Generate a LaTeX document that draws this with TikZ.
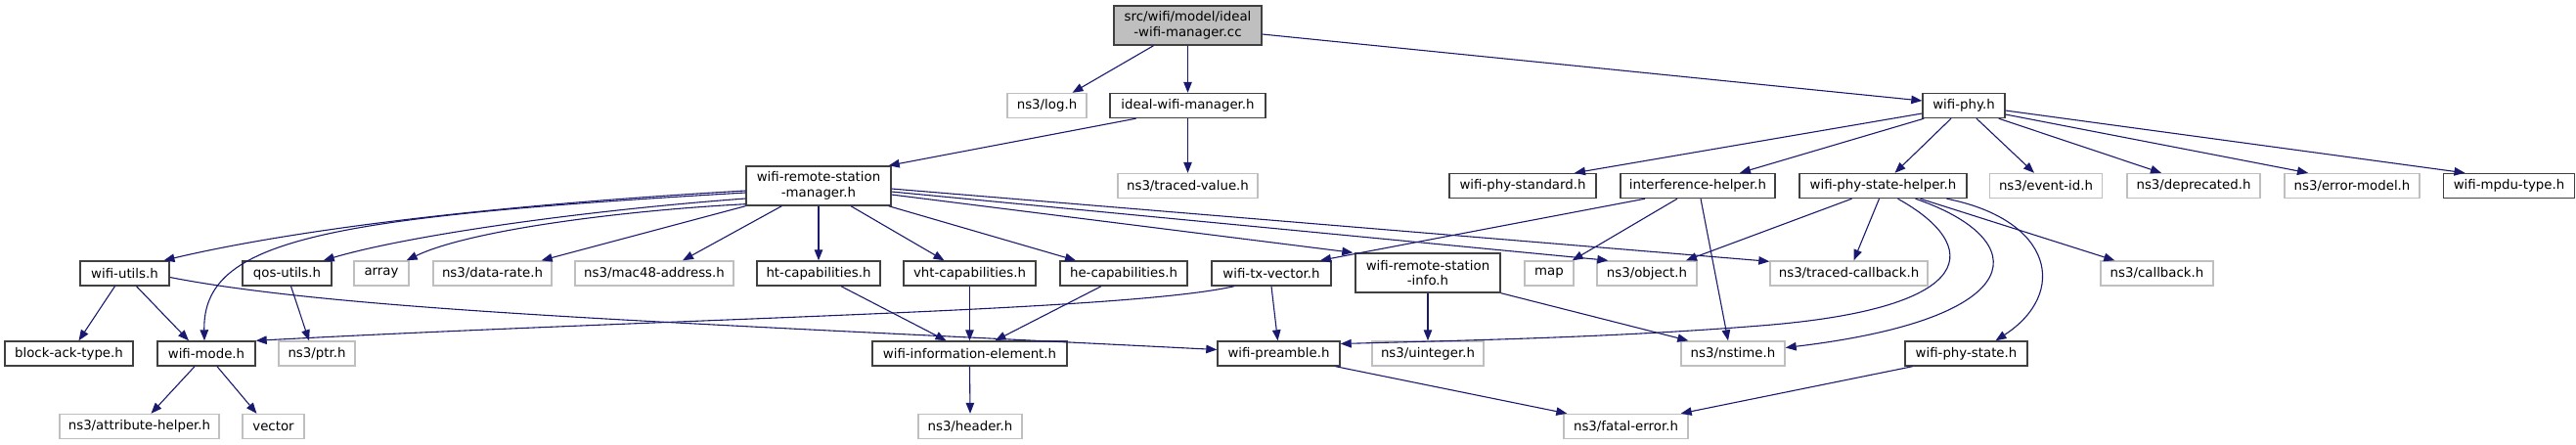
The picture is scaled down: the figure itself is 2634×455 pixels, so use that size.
\documentclass[tikz,border=0pt]{standalone}
\usepackage{fontspec}
\setmainfont{DejaVu Sans}
\usetikzlibrary{arrows.meta}
\definecolor{edgeblue}{HTML}{191970}
\definecolor{boxdark}{HTML}{404040}
\definecolor{boxgrey}{HTML}{BFBFBF}
\begin{document}
\begin{tikzpicture}[x=1pt,y=-1pt,
  every node/.style={font=\fontsize{13.33}{15.5}\selectfont, inner sep=0pt, minimum height=25pt, align=center},
  doc/.style={draw=boxdark, line width=1.4pt, fill=white},
  ext/.style={draw=boxgrey, line width=1.4pt, fill=white},
  rootbox/.style={draw=boxdark, line width=1.4pt, fill=boxgrey, minimum height=40pt},
  tall/.style={minimum height=40pt},
  conn/.style={draw=edgeblue, line width=1.1pt, -{Triangle[length=11pt,width=8.5pt]}}
]
\useasboundingbox (0,0) rectangle (2634,455);
% row 0
\node[rootbox, minimum width=151pt] (root) at (1214.5,26) {src/wifi/model/ideal\\-wifi-manager.cc};
% row 1
\node[ext, minimum width=81pt] (log) at (1070.5,108) {ns3/log.h};
\node[doc, minimum width=159pt] (iwm) at (1214.5,108) {ideal-wifi-manager.h};
\node[doc, minimum width=84pt] (wphy) at (2008,108) {wifi-phy.h};
% row 2
\node[doc, tall, minimum width=148pt] (wrsm) at (837,190) {wifi-remote-station\\-manager.h};
\node[ext, minimum width=143pt] (tval) at (1214.5,190) {ns3/traced-value.h};
\node[doc, minimum width=150pt] (wpstd) at (1557,190) {wifi-phy-standard.h};
\node[doc, minimum width=158pt] (ih) at (1736,190) {interference-helper.h};
\node[doc, minimum width=171pt] (wpsh) at (1925.5,190) {wifi-phy-state-helper.h};
\node[ext, minimum width=115pt] (evid) at (2092,190) {ns3/event-id.h};
\node[ext, minimum width=136pt] (depr) at (2243,190) {ns3/deprecated.h};
\node[ext, minimum width=138pt] (errm) at (2405,190) {ns3/error-model.h};
\node[doc, minimum width=134pt] (mpdu) at (2565.5,190) {wifi-mpdu-type.h};
% row 3
\node[doc, minimum width=91pt] (wutil) at (127.5,279.5) {wifi-utils.h};
\node[doc, minimum width=91pt] (qos) at (293.5,279.5) {qos-utils.h};
\node[ext, minimum width=56pt] (array) at (390,279.5) {array};
\node[ext, minimum width=121pt] (drate) at (503.5,279.5) {ns3/data-rate.h};
\node[ext, minimum width=162pt] (mac) at (669,279.5) {ns3/mac48-address.h};
\node[doc, minimum width=126pt] (ht) at (837,279.5) {ht-capabilities.h};
\node[doc, minimum width=135pt] (vht) at (991.5,279.5) {vht-capabilities.h};
\node[doc, minimum width=130pt] (he) at (1149,279.5) {he-capabilities.h};
\node[doc, minimum width=122pt] (txv) at (1300,279.5) {wifi-tx-vector.h};
\node[doc, tall, minimum width=148pt] (wrsi) at (1460,279) {wifi-remote-station\\-info.h};
\node[ext, minimum width=50pt] (map) at (1584,279.5) {map};
\node[ext, minimum width=102pt] (obj) at (1684,279.5) {ns3/object.h};
\node[ext, minimum width=161pt] (tcb) at (1890.5,279.5) {ns3/traced-callback.h};
\node[ext, minimum width=115pt] (cb) at (2205.5,279.5) {ns3/callback.h};
% row 4
\node[doc, minimum width=131pt] (back) at (70.5,361.5) {block-ack-type.h};
\node[doc, minimum width=100pt] (wmode) at (211,361.5) {wifi-mode.h};
\node[ext, minimum width=78pt] (ptr) at (324,361.5) {ns3/ptr.h};
\node[doc, minimum width=199pt] (wie) at (991.5,361.5) {wifi-information-element.h};
\node[doc, minimum width=125pt] (wpre) at (1307.5,361.5) {wifi-preamble.h};
\node[ext, minimum width=114pt] (uint) at (1460,361.5) {ns3/uinteger.h};
\node[ext, minimum width=106pt] (nst) at (1772,361.5) {ns3/nstime.h};
\node[doc, minimum width=125pt] (wps) at (2010.5,361.5) {wifi-phy-state.h};
% row 5
\node[ext, minimum width=163pt] (attr) at (142.5,436) {ns3/attribute-helper.h};
\node[ext, minimum width=63pt] (vec) at (279.5,436) {vector};
\node[ext, minimum width=106pt] (hdr) at (992,436) {ns3/header.h};
\node[ext, minimum width=127pt] (fatal) at (1662.5,436) {ns3/fatal-error.h};
% edges
\draw[conn] ([xshift=-35pt]root.south) -- ([xshift=26pt]log.north);
\draw[conn] (root.south) -- (iwm.north);
\draw[conn] ([yshift=-9pt]root.east) -- ([yshift=5pt]wphy.west);
\draw[conn] ([xshift=-53pt]iwm.south) -- ([xshift=-3pt]wrsm.north east);
\draw[conn] (iwm.south) -- (tval.north);
\draw[conn] ([yshift=-5pt]wrsm.west) .. controls (500,210) and (300,235) .. ([xshift=40pt]wutil.north);
\draw[conn] ([yshift=-7pt]wrsm.west) .. controls (330,222) and (207,245) .. ([xshift=-2pt]wmode.north);
\draw[conn] ([yshift=-13pt]wrsm.west) .. controls (600,215) and (420,240) .. ([xshift=-9pt]qos.north east);
\draw[conn] ([yshift=2pt]wrsm.south west) .. controls (640,215) and (480,235) .. ([xshift=-3pt]array.north east);
\draw[conn] (wrsm.south west) -- ([xshift=-11pt]drate.north east);
\draw[conn] ([xshift=37pt]wrsm.south west) -- ([xshift=29pt]mac.north);
\draw[conn] (wrsm.south) -- (ht.north);
\draw[conn] ([xshift=33pt]wrsm.south) -- ([xshift=-26pt]vht.north);
\draw[conn] ([xshift=-3pt]wrsm.south east) -- ([xshift=-49pt]he.north);
\draw[conn] ([yshift=-9pt]wrsm.east) -- ([xshift=-2pt]wrsi.north west);
\draw[conn] ([yshift=-6pt]wrsm.east) -- ([xshift=12pt]obj.north west);
\draw[conn] ([yshift=-3pt]wrsm.east) -- ([yshift=-1pt]tcb.north west);
\draw[conn] ([xshift=-10pt]wutil.south) -- ([xshift=10pt]back.north);
\draw[conn] ([xshift=12pt]wutil.south) -- ([xshift=-18pt]wmode.north);
\draw[conn] ([yshift=-4pt]wutil.east) .. controls (350,318) and (700,330) .. ([yshift=4pt]wpre.west);
\draw[conn] ([xshift=4pt]qos.south) -- ([xshift=-8pt]ptr.north);
\draw[conn] ([xshift=-12pt]wmode.south) -- ([xshift=12pt]attr.north);
\draw[conn] ([xshift=11pt]wmode.south) -- ([xshift=-17pt]vec.north);
\draw[conn] ([xshift=23pt]ht.south) -- ([xshift=-24pt]wie.north);
\draw[conn] (vht.south) -- (wie.north);
\draw[conn] ([xshift=-23pt]he.south) -- ([xshift=26pt]wie.north);
\draw[conn] (wie.south) -- (hdr.north);
\draw[conn] ([xshift=-38pt]txv.south) .. controls (1150,318) and (700,325) .. (wmode.north east);
\draw[conn] (txv.south) -- ([xshift=-1pt]wpre.north);
\draw[conn] (wrsi.south) -- (uint.north);
\draw[conn] (wrsi.south east) -- ([xshift=8pt]nst.north west);
\draw[conn] ([xshift=-5pt]wpre.south east) -- ([xshift=4pt]fatal.north west);
\draw[conn] ([xshift=-55pt]wps.south) -- ([xshift=-8pt]fatal.north east);
\draw[conn] ([yshift=-8pt]wphy.west) -- ([xshift=53pt]wpstd.north);
\draw[conn] ([xshift=2pt]wphy.south west) -- ([xshift=43pt]ih.north);
\draw[conn] ([xshift=-13pt]wphy.south) -- ([xshift=12pt]wpsh.north);
\draw[conn] ([xshift=13pt]wphy.south) -- ([xshift=-12pt]evid.north);
\draw[conn] ([xshift=-7pt]wphy.south east) -- ([xshift=-33pt]depr.north);
\draw[conn] ([yshift=-9pt]wphy.east) -- ([xshift=-45pt]errm.north);
\draw[conn] ([yshift=-5pt]wphy.east) -- ([xshift=-45pt]mpdu.north);
\draw[conn] ([xshift=-54pt]ih.south) -- ([xshift=50pt]txv.north);
\draw[conn] ([xshift=-21pt]ih.south) -- ([xshift=-2pt]map.north east);
\draw[conn] ([xshift=3pt]ih.south) -- ([xshift=-5pt]nst.north);
\draw[conn] ([xshift=-32pt]wpsh.south) -- ([xshift=40pt]obj.north);
\draw[conn] ([xshift=-4pt]wpsh.south) -- ([xshift=5pt]tcb.north);
\draw[conn] ([xshift=15pt]wpsh.south) .. controls (2025,250) and (2030,315) .. (1800,333) .. controls (1650,345) and (1500,348) .. ([yshift=10pt]wpre.east);
\draw[conn] ([xshift=33pt]wpsh.south) .. controls (2080,245) and (2080,325) .. ([yshift=6pt]nst.east);
\draw[conn] ([xshift=65pt]wpsh.south) .. controls (2100,225) and (2115,300) .. ([xshift=30pt]wps.north);
\draw[conn] ([xshift=38pt]wpsh.south) -- ([xshift=15pt]cb.north west);
\end{tikzpicture}
\end{document}
